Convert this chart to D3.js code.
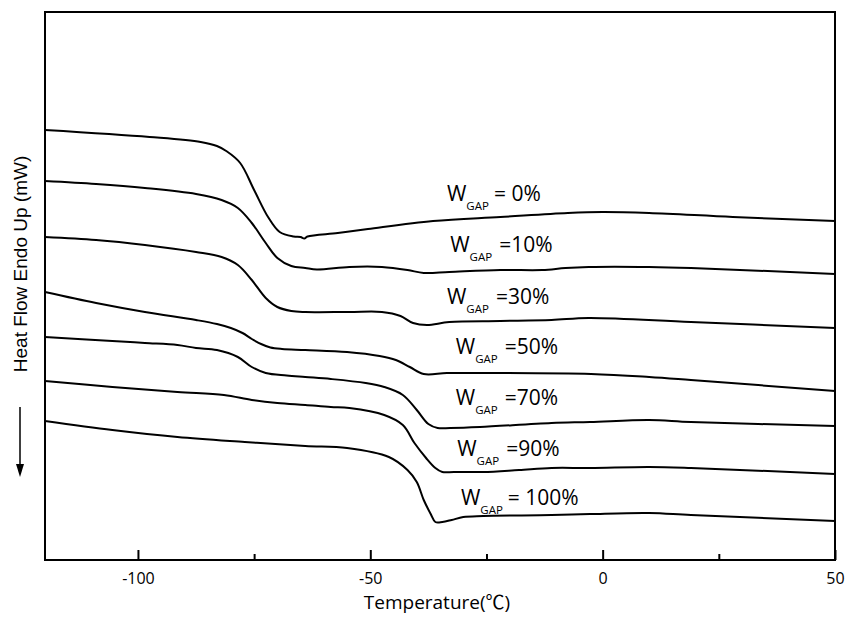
<!DOCTYPE html>
<html>
<head>
<meta charset="utf-8">
<script src="https://cdn.jsdelivr.net/npm/d3@7"></script>
<style>
  body { margin: 0; background: #fff; }
  .curve { fill: none; stroke: #000; stroke-width: 2; }
  .frame { fill: none; stroke: #000; stroke-width: 2; }
  .lbl { font-family: "Open Sans", sans-serif; fill: #000; }
</style>
</head>
<body>
<div class="chart-container"></div>
<script>
// Data (temperature in C, heat flow in arbitrary offset units)
var gap0 = [[-120,43.0],[-97.5,42.3],[-86.5,41.8],[-83,41.4],[-81,40.9],[-78,39.7],[-75,37.0],[-72,34.3],[-69.5,32.8],[-66.5,32.35],[-65,32.3],[-64.2,32.15],[-63.5,32.35],[-57,32.7],[-50.5,33.1],[-36.5,33.9],[-22,34.3],[-7.5,34.7],[0,34.8],[10,34.7],[28,34.3],[50,33.9]];
var gap10 = [[-120,37.9],[-109,37.6],[-98.5,37.2],[-87.5,36.6],[-82,36.0],[-78.5,35.2],[-75.5,33.7],[-72.5,31.7],[-70,30.2],[-67,29.4],[-64,29.2],[-61.5,29.05],[-54.5,29.3],[-47.5,29.3],[-42,29.0],[-38.5,28.7],[-33,28.8],[-22,29.0],[-13,29.0],[-8,29.2],[-3,29.3],[10,29.3],[19,29.2],[50,28.6]];
var gap30 = [[-120,32.3],[-109,32.0],[-98.5,31.5],[-87.5,30.8],[-82,30.3],[-78.5,29.5],[-75.5,28.0],[-72.5,26.2],[-70,25.3],[-67,24.9],[-64,24.8],[-54.5,24.8],[-47.5,24.8],[-43.5,24.4],[-40.8,23.7],[-37.8,23.5],[-33,23.8],[-22,23.9],[-11,24.0],[-3,24.2],[19,23.8],[50,23.2]];
var gap50 = [[-120,26.8],[-109,25.7],[-98.5,24.8],[-87.5,24.0],[-83,23.6],[-80,23.2],[-77.5,22.7],[-75.5,22.1],[-73.5,21.6],[-71.5,21.25],[-69,21.1],[-64,21.0],[-55,20.8],[-48,20.4],[-44.5,20.0],[-41.5,19.3],[-38.5,18.6],[-33.5,18.7],[-25.5,18.7],[-2.5,18.6],[10,18.3],[19,18.0],[50,16.9]];
var gap70 = [[-120,22.3],[-105.5,21.9],[-98.5,21.7],[-91.5,21.5],[-87.5,21.2],[-83,21.0],[-78.5,20.3],[-75.5,19.3],[-72.5,18.7],[-68,18.45],[-64,18.3],[-58.5,18.1],[-51,17.7],[-47,17.3],[-43,16.5],[-40,15.0],[-37.5,13.6],[-35.5,13.2],[-32.8,13.2],[-26.4,13.3],[-11,13.7],[-2.7,13.8],[10,14.0],[19,13.8],[50,13.4]];
var gap90 = [[-120,17.9],[-105.5,17.3],[-91.5,16.8],[-81.5,16.5],[-75.5,16.0],[-70,15.7],[-64,15.5],[-58.5,15.3],[-54.5,15.2],[-47,14.5],[-43,13.5],[-40.5,11.7],[-38,10.2],[-36,9.2],[-34.5,8.8],[-32,8.8],[-25.7,8.8],[-18,9.0],[-11,9.2],[-2.7,9.2],[10,9.3],[19,9.2],[50,8.6]];
var gap100 = [[-120,13.9],[-105.5,13.0],[-91.5,12.3],[-77,11.8],[-64,11.4],[-55,11.2],[-46,10.3],[-42,9.0],[-40,7.8],[-38.5,6.0],[-37,4.6],[-36,3.8],[-34.5,3.8],[-32.5,4.0],[-30,4.3],[-25.7,4.4],[-11,4.5],[-2.7,4.6],[10,4.7],[19,4.5],[50,3.9]];

var series = [gap0, gap10, gap30, gap50, gap70, gap90, gap100];
var seriesLabels = ["= 0%", "=10%", "=30%", "=50%", "=70%", "=90%", "= 100%"];
// label anchor: [temperature, heat flow] of the "W"
var labelPos = [[-33.5,35.9],[-32.8,30.8],[-33.5,25.6],[-31.6,20.6],[-31.6,15.5],[-31.3,10.4],[-30.5,5.5]];

var majorTicks = [-100, -50, 0, 50];
var minorTicks = [-75, -25, 25];

// Set Margin
var margin = { top: 12, right: 11, bottom: 57, left: 45 },
    width = 846 - margin.left - margin.right,
    height = 617 - margin.top - margin.bottom;

var x = d3.scaleLinear().domain([-120, 50]).range([0, width]);
var y = d3.scaleLinear().domain([0, 54.8]).range([height, 0]);

var root = d3.select('.chart-container').append("svg")
    .attr("width", 846)
    .attr("height", 617);

var svg = root.append("g")
    .attr("transform", "translate(" + margin.left + "," + margin.top + ")");

// Curves
var line = d3.line()
    .x(function(d) { return x(d[0]); })
    .y(function(d) { return y(d[1]); })
    .curve(d3.curveCatmullRom.alpha(0.5));

svg.selectAll(".curve")
    .data(series)
    .enter().append("path")
    .attr("class", "curve")
    .attr("d", line);

// Frame
svg.append("rect")
    .attr("class", "frame")
    .attr("x", 0).attr("y", 0)
    .attr("width", width).attr("height", height);

// x axis: ticks inside
svg.append("g")
    .attr("transform", "translate(0," + height + ")")
    .call(d3.axisBottom(x).tickValues(majorTicks).tickSize(-10).tickPadding(13).tickFormat(function(d) { return String(d); }))
    .call(function(g) {
        g.select(".domain").remove();
        g.selectAll("line").attr("stroke-width", 2);
        g.selectAll("text").attr("font-family", "Open Sans, sans-serif").attr("font-size", 16).attr("fill", "#000");
    });

svg.append("g")
    .attr("transform", "translate(0," + height + ")")
    .call(d3.axisBottom(x).tickValues(minorTicks).tickSize(-6).tickFormat(""))
    .call(function(g) {
        g.select(".domain").remove();
        g.selectAll("line").attr("stroke-width", 2);
    });

// Series labels
series.forEach(function(s, i) {
    var t = svg.append("text")
        .attr("class", "lbl")
        .attr("x", x(labelPos[i][0]))
        .attr("y", y(labelPos[i][1]))
        .attr("font-size", 21);
    t.append("tspan").text("W");
    t.append("tspan").attr("dy", 9).attr("font-size", 11.5).text("GAP");
    t.append("tspan").attr("dy", -9).attr("dx", i == 0 || i == 6 ? 5 : 7).text(seriesLabels[i]);
});

// Axis titles
var xt = root.append("text")
    .attr("class", "lbl")
    .attr("x", 437)
    .attr("y", 609)
    .attr("text-anchor", "middle")
    .attr("font-size", 19);
xt.append("tspan").text("Temperature(");
xt.append("tspan").attr("font-family", "Noto Sans CJK SC, sans-serif").text("℃");
xt.append("tspan").text(")");

root.append("text")
    .attr("transform", "translate(27,264) rotate(-90)")
    .attr("text-anchor", "middle")
    .attr("font-family", "Liberation Sans, Arial, sans-serif")
    .attr("font-size", 19)
    .text("Heat Flow Endo Up (mW)");

// Down arrow
root.append("line")
    .attr("x1", 20).attr("y1", 407)
    .attr("x2", 20).attr("y2", 466)
    .attr("stroke", "#000").attr("stroke-width", 1.5);
root.append("path")
    .attr("d", "M16,464 L24,464 L20,477 Z")
    .attr("fill", "#000");
</script>
</body>
</html>
